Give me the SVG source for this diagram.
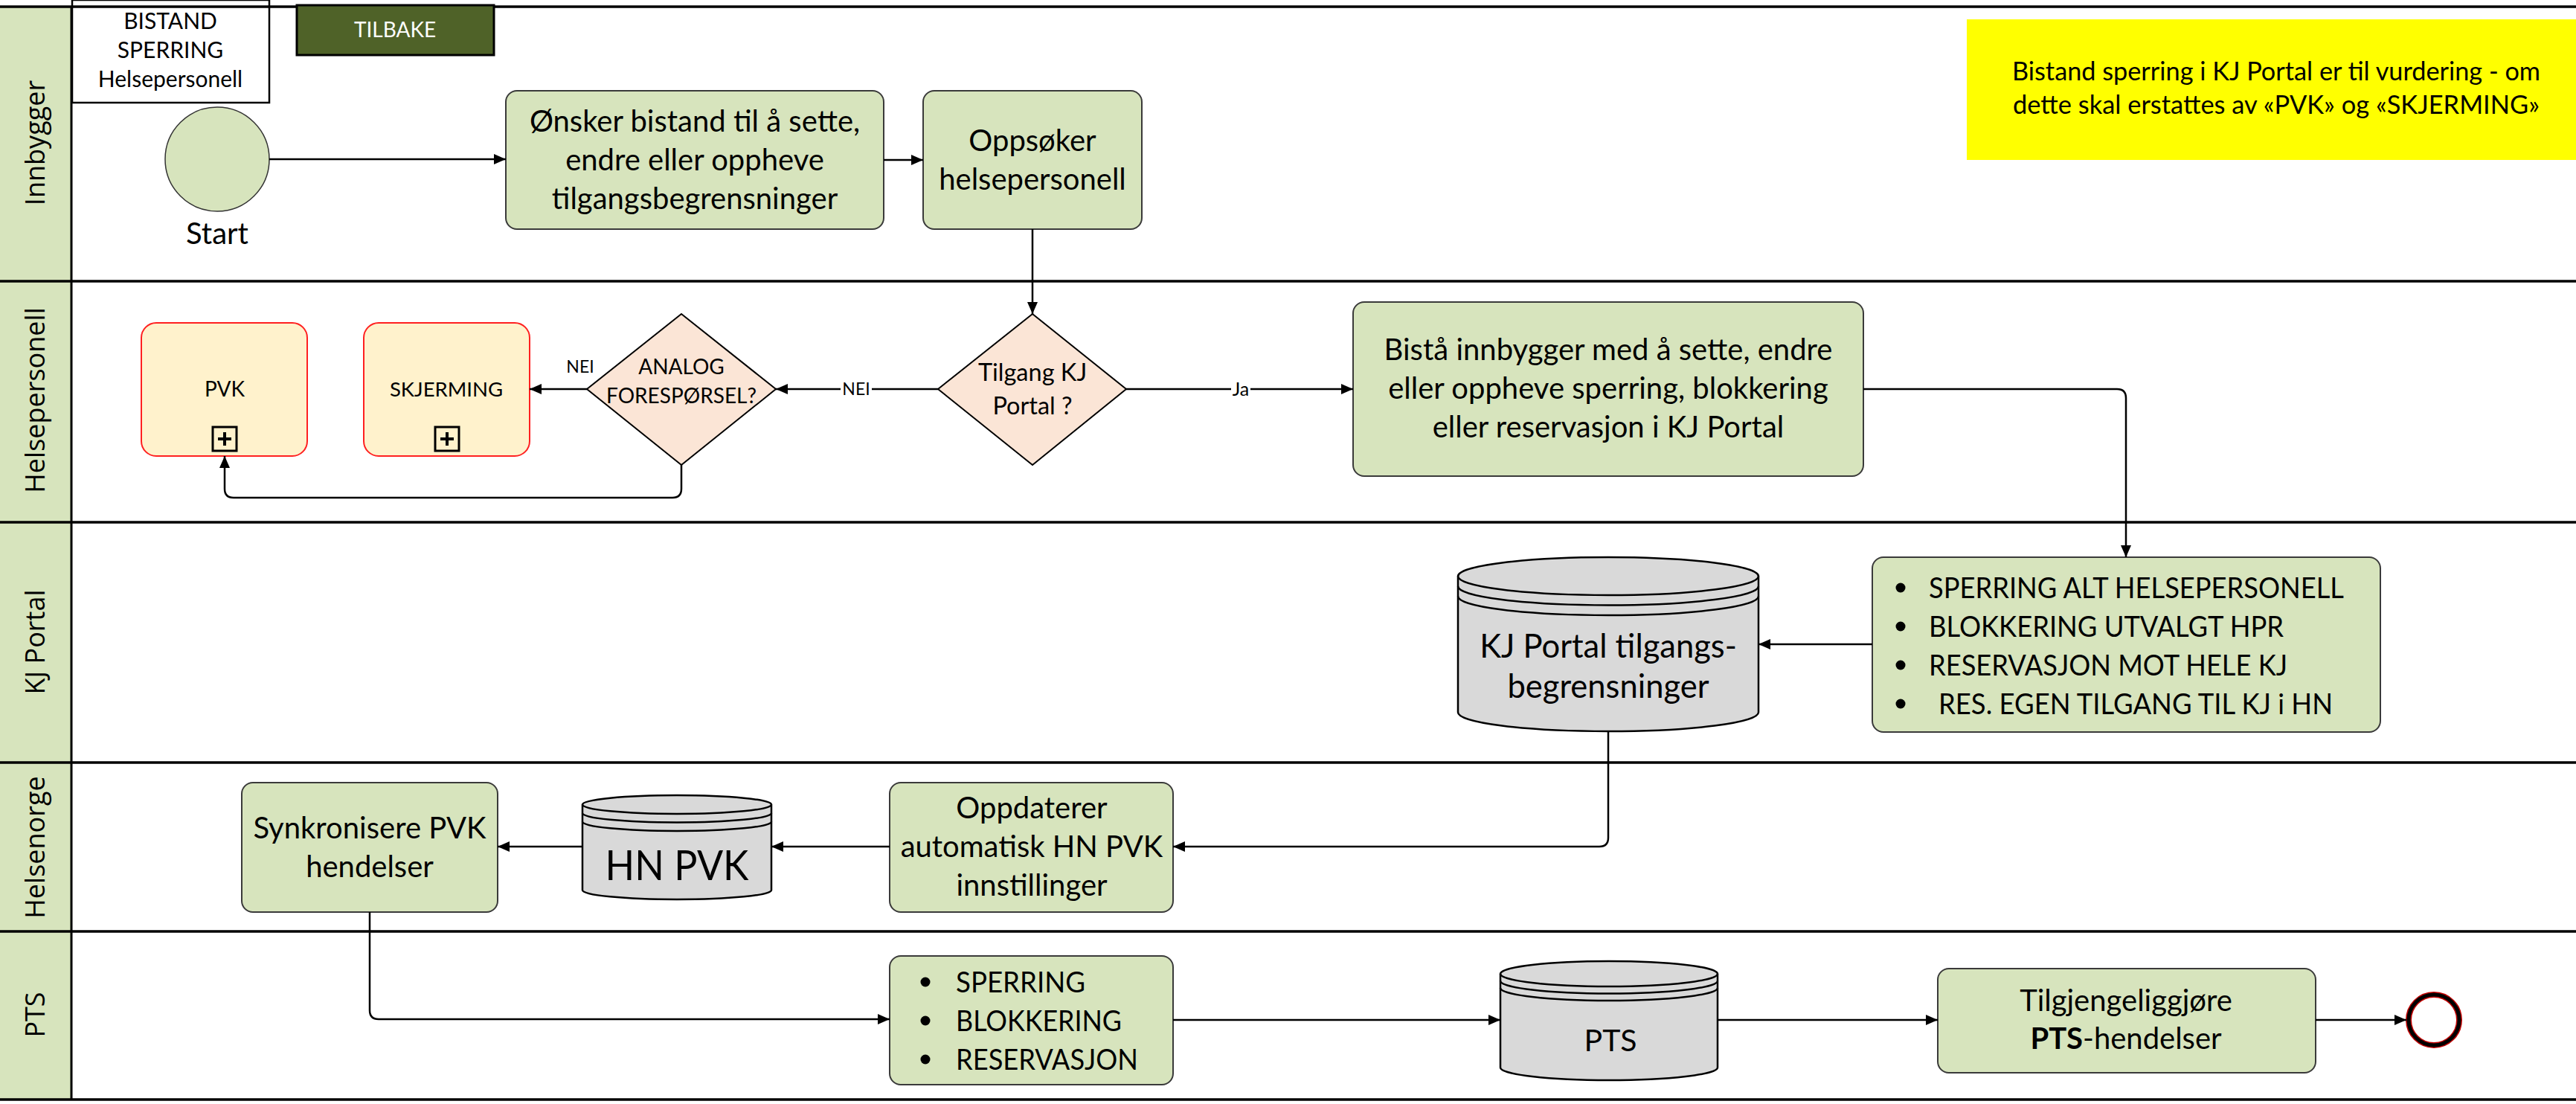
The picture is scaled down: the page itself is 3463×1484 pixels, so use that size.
<svg xmlns="http://www.w3.org/2000/svg" width="3463" height="1484" viewBox="0 0 3463 1484">
<style>
.t{font-family:Lato,"Liberation Sans",sans-serif;fill:#000;text-anchor:middle}
.s40{font-size:40px}
.u37{font-size:38.5px;text-anchor:start}
.s30{font-size:30px}
.s33{font-size:32.5px}
.s28{font-size:28px}
.s23{font-size:23px}
.lane{font-family:"Open Sans","DejaVu Sans",sans-serif;font-size:36px;fill:#000;text-anchor:middle}
.box{fill:#D7E4BD;stroke:#3a3a3a;stroke-width:2}
.sub{fill:#FFF2CC;stroke:#FF2020;stroke-width:2}
.dia{fill:#FBE5D6;stroke:#000;stroke-width:2}
.cyl{fill:#D9D9D9;stroke:#000;stroke-width:2.5}
.ring{fill:none;stroke:#000;stroke-width:2.5}
.con{fill:none;stroke:#000;stroke-width:2.5}
.lline{stroke:#000;stroke-width:3.5}
</style>
<defs>
<marker id="arr" viewBox="0 0 16 14" refX="16" refY="7" markerWidth="16" markerHeight="14" markerUnits="userSpaceOnUse" orient="auto"><path d="M0,0 L16,7 L0,14 Z" fill="#000"/></marker>
</defs>
<rect width="3463" height="1484" fill="#fff"/>
<g id="lanes">
<rect x="0" y="9" width="96" height="1469" fill="#D7E4BD"/>
<line x1="96" y1="9" x2="96" y2="1478" stroke="#000" stroke-width="3"/>
<text class="lane" transform="translate(60,192) rotate(-90)">Innbygger</text>
<text class="lane" transform="translate(60,538) rotate(-90)">Helsepersonell</text>
<text class="lane" transform="translate(60,863) rotate(-90)">KJ Portal</text>
<text class="lane" transform="translate(60,1139) rotate(-90)">Helsenorge</text>
<text class="lane" transform="translate(60,1364) rotate(-90)">PTS</text>
</g>
<g id="title">
<rect x="97" y="0" width="265" height="138" fill="#fff" stroke="#000" stroke-width="2.5"/>
<text class="t s30" x="229" y="39">BISTAND</text>
<text class="t s30" x="229" y="78">SPERRING</text>
<text class="t s30" x="229" y="117">Helsepersonell</text>
</g>
<g id="lanelines">
<line class="lline" x1="0" y1="9" x2="3463" y2="9"/>
<line class="lline" x1="0" y1="378" x2="3463" y2="378"/>
<line class="lline" x1="0" y1="702" x2="3463" y2="702"/>
<line class="lline" x1="0" y1="1025" x2="3463" y2="1025"/>
<line class="lline" x1="0" y1="1252" x2="3463" y2="1252"/>
<line class="lline" x1="0" y1="1478" x2="3463" y2="1478"/>
</g>
<g id="tilbake">
<rect x="399" y="7" width="265" height="67" fill="#4F6228" stroke="#000" stroke-width="3"/>
<text class="t s28" x="531" y="50" style="fill:#fff">TILBAKE</text>
</g>
<g id="note">
<rect x="2644" y="26" width="819" height="189" fill="#FFFF00"/>
<text class="t" x="3060" y="108" style="font-size:34.5px" textLength="710" lengthAdjust="spacingAndGlyphs">Bistand sperring i KJ Portal er til vurdering - om</text>
<text class="t" x="3060" y="153" style="font-size:34.7px" textLength="708" lengthAdjust="spacingAndGlyphs">dette skal erstattes av «PVK» og «SKJERMING»</text>
</g>
<g id="start">
<circle cx="292" cy="214" r="70" fill="#D7E4BD" stroke="#333" stroke-width="1.5"/>
<text class="t s40" x="292" y="328">Start</text>
</g>
<g id="onsker">
<rect class="box" x="680" y="122" width="508" height="186" rx="15"/>
<text class="t s40" x="934" y="177">Ønsker bistand til å sette,</text>
<text class="t s40" x="934" y="229">endre eller oppheve</text>
<text class="t s40" x="934" y="281">tilgangsbegrensninger</text>
</g>
<g id="oppsoker">
<rect class="box" x="1241" y="122" width="294" height="186" rx="15"/>
<text class="t s40" x="1388" y="203">Oppsøker</text>
<text class="t s40" x="1388" y="255">helsepersonell</text>
</g>
<g id="pvk">
<rect class="sub" x="190" y="434" width="223" height="179" rx="20"/>
<text class="t s28" x="302" y="533">PVK</text>
<rect x="286" y="574" width="32" height="32" fill="none" stroke="#000" stroke-width="3"/>
<path d="M293,590 H311 M302,581 V599" stroke="#000" stroke-width="4"/>
</g>
<g id="skjerming">
<rect class="sub" x="489" y="434" width="223" height="179" rx="20"/>
<text class="t" x="600" y="533" style="font-size:27.5px">SKJERMING</text>
<rect x="585" y="574" width="32" height="32" fill="none" stroke="#000" stroke-width="3"/>
<path d="M592,590 H610 M601,581 V599" stroke="#000" stroke-width="4"/>
</g>
<g id="analog">
<path class="dia" d="M916,422 L1043,523 L916,625 L789,523 Z"/>
<text class="t s28" x="916" y="503">ANALOG</text>
<text class="t s28" x="916" y="542">FORESPØRSEL?</text>
</g>
<g id="tilgang">
<path class="dia" d="M1388,422 L1514,523 L1388,625 L1261,523 Z"/>
<text class="t s33" x="1388" y="512">Tilgang KJ</text>
<text class="t s33" x="1388" y="557">Portal ?</text>
</g>
<g id="bista">
<rect class="box" x="1819" y="406" width="686" height="234" rx="15"/>
<text class="t s40" x="2162" y="484">Bistå innbygger med å sette, endre</text>
<text class="t s40" x="2162" y="536">eller oppheve sperring, blokkering</text>
<text class="t s40" x="2162" y="588">eller reservasjon i KJ Portal</text>
</g>
<g id="kjliste">
<rect class="box" x="2517" y="749" width="683" height="235" rx="15"/>
<circle cx="2555" cy="790" r="6.5"/>
<circle cx="2555" cy="842" r="6.5"/>
<circle cx="2555" cy="894" r="6.5"/>
<circle cx="2555" cy="946" r="6.5"/>
<text class="t u37" x="2593" y="804" textLength="558" lengthAdjust="spacingAndGlyphs">SPERRING ALT HELSEPERSONELL</text>
<text class="t u37" x="2593" y="856" textLength="477" lengthAdjust="spacingAndGlyphs">BLOKKERING UTVALGT HPR</text>
<text class="t u37" x="2593" y="908" textLength="482" lengthAdjust="spacingAndGlyphs">RESERVASJON MOT HELE KJ</text>
<text class="t u37" x="2606" y="960" textLength="530" lengthAdjust="spacingAndGlyphs">RES. EGEN TILGANG TIL KJ i HN</text>
</g>
<g id="kjdb">
<path class="cyl" d="M1960,774.5 V957.5 A202,25.5 0 0 0 2364,957.5 V774.5 A202,25.5 0 0 0 1960,774.5 Z"/>
<path class="ring" d="M1960,774.5 A202,25.5 0 0 0 2364,774.5 M1960,788 A202,25.5 0 0 0 2364,788 M1960,801.5 A202,25.5 0 0 0 2364,801.5"/>
<text class="t" x="2162" y="884" style="font-size:43.5px">KJ Portal tilgangs-</text>
<text class="t" x="2162" y="938" style="font-size:43.5px">begrensninger</text>
</g>
<g id="oppdaterer">
<rect class="box" x="1196" y="1052" width="381" height="174" rx="15"/>
<text class="t s40" x="1387" y="1100">Oppdaterer</text>
<text class="t s40" x="1387" y="1152">automatisk HN PVK</text>
<text class="t s40" x="1387" y="1204">innstillinger</text>
</g>
<g id="hnpvk">
<path class="cyl" d="M783,1081.5 V1196.5 A127,12.5 0 0 0 1037,1196.5 V1081.5 A127,12.5 0 0 0 783,1081.5 Z"/>
<path class="ring" d="M783,1081.5 A127,12.5 0 0 0 1037,1081.5 M783,1093 A127,12.5 0 0 0 1037,1093 M783,1104.5 A127,12.5 0 0 0 1037,1104.5"/>
<text class="t" x="910" y="1183" style="font-size:56px" textLength="193" lengthAdjust="spacingAndGlyphs">HN PVK</text>
</g>
<g id="synk">
<rect class="box" x="325" y="1052" width="344" height="174" rx="15"/>
<text class="t s40" x="497" y="1127">Synkronisere PVK</text>
<text class="t s40" x="497" y="1179">hendelser</text>
</g>
<g id="ptsliste">
<rect class="box" x="1196" y="1285" width="381" height="173" rx="15"/>
<circle cx="1244" cy="1320" r="6.5"/>
<circle cx="1244" cy="1372" r="6.5"/>
<circle cx="1244" cy="1424" r="6.5"/>
<text class="t u37" x="1285" y="1334" textLength="174" lengthAdjust="spacingAndGlyphs">SPERRING</text>
<text class="t u37" x="1285" y="1386" textLength="223" lengthAdjust="spacingAndGlyphs">BLOKKERING</text>
<text class="t u37" x="1285" y="1438" textLength="245" lengthAdjust="spacingAndGlyphs">RESERVASJON</text>
</g>
<g id="ptsdb">
<path class="cyl" d="M2017,1309 V1435 A146,17 0 0 0 2309,1435 V1309 A146,17 0 0 0 2017,1309 Z"/>
<path class="ring" d="M2017,1309 A146,17 0 0 0 2309,1309 M2017,1318.5 A146,17 0 0 0 2309,1318.5 M2017,1328 A146,17 0 0 0 2309,1328"/>
<text class="t" x="2165" y="1413" style="font-size:41px">PTS</text>
</g>
<g id="tilgj">
<rect class="box" x="2605" y="1302" width="508" height="140" rx="15"/>
<text class="t s40" x="2858" y="1359">Tilgjengeliggjøre</text>
<text class="t s40" x="2858" y="1410"><tspan font-weight="bold">PTS</tspan>-hendelser</text>
</g>
<g id="slutt">
<circle cx="3272" cy="1371" r="34" fill="#fff" stroke="#C00000" stroke-width="8"/>
<circle cx="3272" cy="1371" r="34" fill="none" stroke="#000" stroke-width="5"/>
</g>
<g id="connectors">
<path class="con" d="M362,214 H680" marker-end="url(#arr)"/>
<path class="con" d="M1188,215 H1241" marker-end="url(#arr)"/>
<path class="con" d="M1388,308 V422" stroke-width="2" marker-end="url(#arr)"/>
<path class="con" d="M1261,523 H1043" marker-end="url(#arr)"/>
<path class="con" d="M1514,523 H1819" marker-end="url(#arr)"/>
<path class="con" d="M789,523 H712" stroke-width="3.5" marker-end="url(#arr)"/>
<path class="con" d="M916,625 V657 Q916,669 904,669 H314 Q302,669 302,657 V613" marker-end="url(#arr)"/>
<path class="con" d="M2505,523 H2846 Q2858,523 2858,535 V749" marker-end="url(#arr)"/>
<path class="con" d="M2517,866 H2364" marker-end="url(#arr)"/>
<path class="con" d="M2162,983 V1126 Q2162,1138 2150,1138 H1577" marker-end="url(#arr)"/>
<path class="con" d="M1196,1138 H1037" marker-end="url(#arr)"/>
<path class="con" d="M783,1138 H669" marker-end="url(#arr)"/>
<path class="con" d="M497,1226 V1358 Q497,1370 509,1370 H1196" marker-end="url(#arr)"/>
<path class="con" d="M1577,1371 H2017" marker-end="url(#arr)"/>
<path class="con" d="M2309,1371 H2605" marker-end="url(#arr)"/>
<path class="con" d="M3113,1371 H3235" marker-end="url(#arr)"/>
<rect x="1130" y="510" width="42" height="26" fill="#fff"/>
<text class="t s23" x="1151" y="531">NEI</text>
<rect x="1655" y="508" width="26" height="30" fill="#fff"/>
<text class="t" x="1668" y="532" style="font-size:25px">Ja</text>
<text class="t s23" x="780" y="501">NEI</text>
</g>
</svg>
